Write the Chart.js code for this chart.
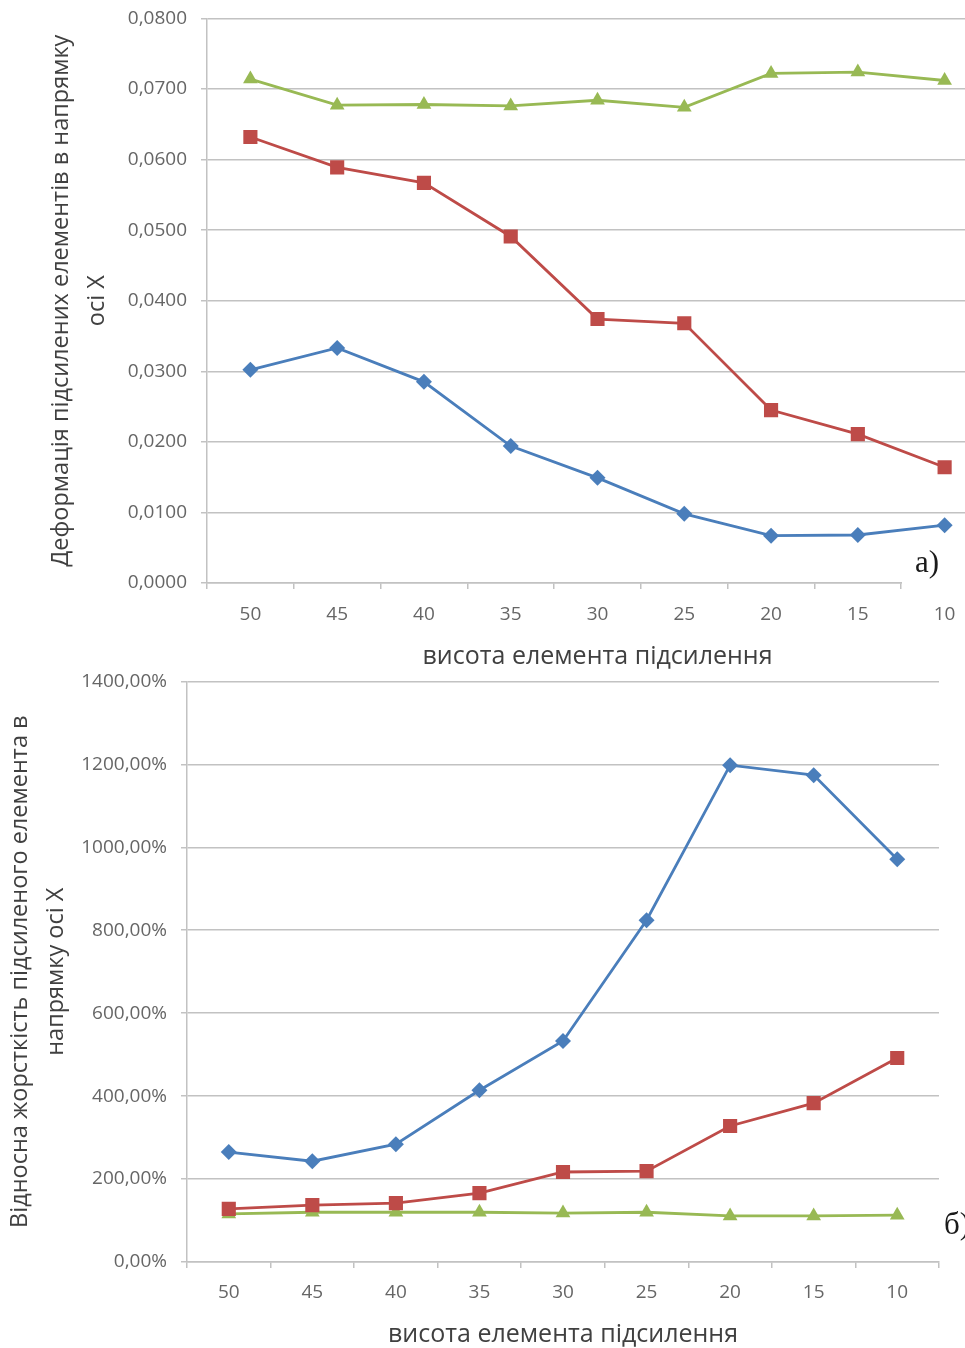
<!DOCTYPE html>
<html>
<head>
<meta charset="utf-8">
<script src="https://cdn.jsdelivr.net/npm/chart.js@4.4.1/dist/chart.umd.min.js"></script>
<style>
  body { margin: 0; background: #fff; overflow: hidden; width: 965px; height: 1348px; position: relative; }
  .box { position: absolute; left: 0; }
  .tag { position: absolute; background: #fff; font-family: "Liberation Serif", serif; font-size: 31px; line-height: 1; color: #1a1a1a; }
</style>
</head>
<body>
<div class="box" style="top:-7px; width:998px; height:687px;"><canvas id="deformChart" width="998" height="687"></canvas></div>
<div class="tag" style="left:902px; top:546px; width:70px; height:44px; padding-left:13px; box-sizing:border-box;">a)</div>
<div class="box" style="top:656px; width:965px; height:694px;"><canvas id="stiffChart" width="965" height="694"></canvas></div>
<div class="tag" style="left:944px; top:1208px; background:transparent;">б)</div>
<script>
// element height, left to right
var heights = ['50', '45', '40', '35', '30', '25', '20', '15', '10'];

// deformation along X
var deformBlue  = [0.0302, 0.0333, 0.0285, 0.0194, 0.0149, 0.0098, 0.0067, 0.0068, 0.0082];
var deformRed   = [0.0632, 0.0589, 0.0567, 0.0491, 0.0374, 0.0368, 0.0245, 0.0211, 0.0164];
var deformGreen = [0.0714, 0.0677, 0.0678, 0.0676, 0.0684, 0.0674, 0.0722, 0.0724, 0.0712];

// relative stiffness along X, %
var stiffBlue  = [265, 243, 284, 414, 533, 824, 1198, 1174, 971];
var stiffRed   = [128, 137, 142, 166, 217, 219, 328, 383, 492];
var stiffGreen = [116, 120, 120, 120, 118, 120, 111, 111, 113];

var blue = '#4a7ebb', red = '#be4b48', green = '#98b954';
var gridColor = '#c2c2c2';
var tickFont = { family: 'Open Sans', size: 19 };
var yTitleFont = { family: 'Open Sans', size: 23.5, lineHeight: 36 / 23.5 };
var xTitleFont = { family: 'Open Sans', size: 25, lineHeight: 1.2 };

function series(data, color, style, radius) {
    return {
        data: data,
        borderColor: color,
        backgroundColor: color,
        borderWidth: 2.8,
        pointStyle: style,
        pointRadius: radius,
        pointBorderWidth: 0,
        tension: 0
    };
}

function makeChart(id, opts) {
    return new Chart(document.getElementById(id), {
        type: 'line',
        data: {
            labels: heights,
            datasets: [
                series(opts.blue, blue, 'rectRot', 8),
                series(opts.red, red, 'rect', 10),
                series(opts.green, green, 'triangle', 8.5)
            ]
        },
        options: {
            responsive: false,
            animation: false,
            events: [],
            layout: { padding: opts.padding },
            plugins: { legend: { display: false }, tooltip: { enabled: false } },
            scales: {
                x: {
                    offset: true,
                    grid: { offset: true, drawOnChartArea: false, drawTicks: true, tickLength: 6, color: gridColor, lineWidth: 1.5 },
                    border: { color: gridColor, width: 1.5 },
                    ticks: { font: tickFont, color: '#666', padding: opts.xTickPad, maxRotation: 0 },
                    title: { display: true, text: 'висота елемента підсилення', font: xTitleFont, color: '#404040', padding: { top: 0, bottom: opts.xTitlePad } },
                    afterFit: function (scale) { scale.height = opts.xHeight; }
                },
                y: {
                    min: 0,
                    max: opts.max,
                    ticks: { stepSize: opts.step, font: tickFont, color: '#666', padding: 14, callback: opts.fmt },
                    grid: { color: gridColor, lineWidth: 1.5, tickLength: 6 },
                    border: { color: gridColor, width: 1.5 },
                    title: { display: true, text: opts.yTitle, font: yTitleFont, color: '#404040', padding: { top: opts.yTitlePad, bottom: 0 } },
                    afterFit: function (scale) { scale.width = opts.yWidth; }
                }
            }
        }
    });
}

makeChart('deformChart', {
    blue: deformBlue, red: deformRed, green: deformGreen,
    max: 0.08, step: 0.01,
    fmt: function (v) { return v.toFixed(4).replace('.', ','); },
    yTitle: ['Деформація підсилених елементів в напрямку', 'осі X'],
    padding: { top: 0, right: 0, bottom: 0, left: 0 },
    xHeight: 97, xTickPad: 14, xTitlePad: 8,
    yWidth: 207, yTitlePad: 43
});

makeChart('stiffChart', {
    blue: stiffBlue, red: stiffRed, green: stiffGreen,
    max: 1400, step: 200,
    fmt: function (v) { return v.toFixed(2).replace('.', ',') + '%'; },
    yTitle: ['Відносна жорсткість підсиленого елемента в', 'напрямку осі X'],
    padding: { top: 0, right: 26, bottom: 0, left: 0 },
    xHeight: 88, xTickPad: 13, xTitlePad: 0,
    yWidth: 187, yTitlePad: 2
});
</script>
</body>
</html>
